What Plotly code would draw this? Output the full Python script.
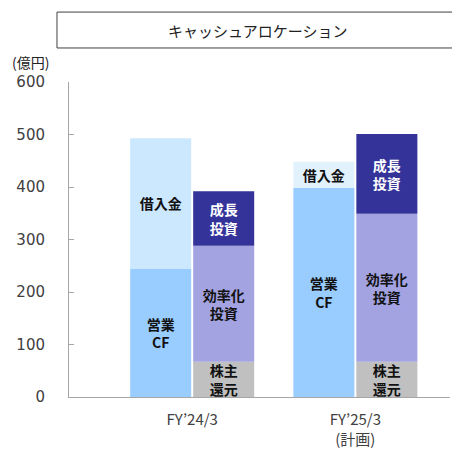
import numpy as np
import plotly.graph_objects as go

PERIODS = ["FY’24/3", "FY’25/3<br>(計画)"]

# sources (left bar)
OPERATING_CF = [245, 398]
BORROWING = [248, 50]

# uses (right bar)
SHAREHOLDER_RETURN = [67, 67]
EFFICIENCY_INV = [221, 282]
GROWTH_INV = [104, 152]

TEXT = "#404040"
FONT = "Noto Sans CJK JP"

fig = go.Figure()


def add_stack(series, side):
    base = np.zeros(len(PERIODS))
    offset = -0.38 if side == "left" else 0.006
    for name, vals, color, txt_color in series:
        fig.add_trace(go.Bar(
            x=PERIODS, y=vals, base=base.copy(), name=name,
            width=0.374, offset=offset,
            marker=dict(color=color, line=dict(width=0)),
            text=[name] * len(PERIODS), textposition="inside", textangle=0,
            insidetextanchor="middle", cliponaxis=False,
            textfont=dict(color=txt_color, size=14, family=FONT, weight="bold"),
            hoverinfo="skip",
        ))
        base += np.array(vals)


add_stack([
    ("営業<br>CF", OPERATING_CF, "#99CCFF", "#111111"),
    ("借入金", BORROWING, ["#CCE8FF", "#E2F2FD"], "#111111"),
], "left")

add_stack([
    ("株主<br>還元", SHAREHOLDER_RETURN, "#C0C0C0", "#111111"),
    ("効率化<br>投資", EFFICIENCY_INV, "#A3A3E2", "#111111"),
    ("成長<br>投資", GROWTH_INV, "#333399", "#FFFFFF"),
], "right")

# title frame: open on the right, it runs off the edge of the picture
box = "M 1.3,1.108 L -0.0315,1.108 L -0.0315,1.222 L 1.3,1.222"

fig.update_layout(
    width=452, height=450,
    margin=dict(l=69, r=2, t=82, b=53),
    barmode="overlay",
    showlegend=False,
    paper_bgcolor="white",
    plot_bgcolor="white",
    font=dict(family=FONT, color=TEXT),
    uniformtext=dict(minsize=14, mode="show"),
    shapes=[dict(
        type="path", xref="paper", yref="paper", path=box,
        line=dict(color="#404040", width=1), layer="below",
    )],
    annotations=[
        dict(text="キャッシュアロケーション", xref="paper", yref="paper",
             x=0.496, y=1.165, xanchor="center", yanchor="middle",
             showarrow=False, font=dict(size=15, color="#222222")),
        dict(text="(億円)", xref="paper", yref="paper",
             x=-0.102, y=1.063, xanchor="center", yanchor="middle",
             showarrow=False, font=dict(size=14, color="#222222")),
    ],
)

fig.update_xaxes(
    range=[-0.755, 1.58], showgrid=False, showline=True, linecolor="#A6A6A6",
    linewidth=1, ticks="", tickfont=dict(size=15, color=TEXT, family=FONT),
    ticklabelstandoff=9,
)
fig.update_yaxes(
    range=[0, 600], dtick=100, showgrid=False, showline=True, linecolor="#A6A6A6",
    linewidth=1, ticks="inside", ticklen=5, tickcolor="#A6A6A6", zeroline=False,
    tickfont=dict(size=15, color=TEXT, family="DejaVu Sans"), ticklabelstandoff=20,
)

# drop the default page margin so the figure sits flush in the window
fig.write_html(
    "out.html",
    config={"displayModeBar": False},
    post_script="document.body.style.margin='0';document.documentElement.style.overflow='hidden';",
)
